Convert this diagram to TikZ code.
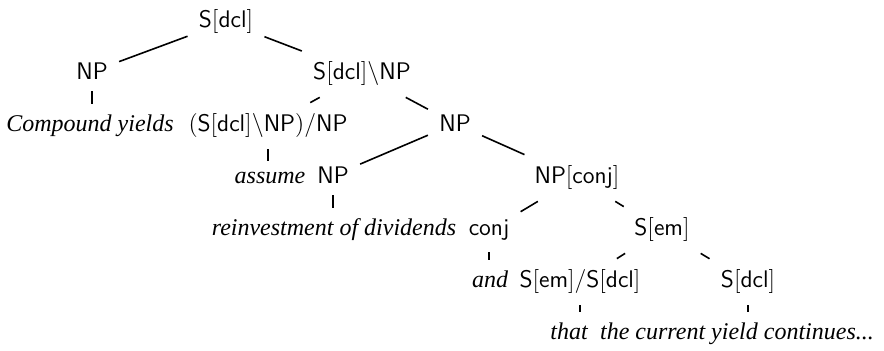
\documentclass[tikz,border=0pt]{standalone}
\usepackage{amsmath}
\usepackage{fontspec}
\usepackage{tikz}
\newfontfamily\wordfont{Liberation Serif}
\tikzstyle{category}=[anchor=base, inner sep=5.5pt, font=\fontsize{12}{14}\selectfont]
\tikzstyle{lex}=[category, font=\fontsize{12}{14}\selectfont\wordfont\itshape]
\tikzstyle{branch}=[line width=.8pt]
\tikzstyle{leafbar}=[line width=.8pt]

\begin{document}
\begin{tikzpicture}[x=.5pt, y=.5pt, yscale=-1]
	\useasboundingbox (0,0) rectangle (884,351);

		% categories, one row every 52 units
		\node[category] (root) at (226,28) {$\mathsf{S[dcl]}$};
		\node[category] (np) at (92,80) {$\mathsf{NP}$};
		\node[category] (vp) at (362,80) {$\mathsf{S[dcl]\backslash NP}$};
		\node[category] (tv) at (268,132) {$\mathsf{(S[dcl]\backslash NP)/NP}$};
		\node[category] (obj) at (455,132) {$\mathsf{NP}$};
		\node[category] (np2) at (333,184) {$\mathsf{NP}$};
		\node[category] (npconj) at (577,184) {$\mathsf{NP[conj]}$};
		\node[category] (conj) at (489,236) {$\mathsf{conj}$};
		\node[category] (sem) at (662,236) {$\mathsf{S[em]}$};
		\node[category] (comp) at (580,288) {$\mathsf{S[em]/S[dcl]}$};
		\node[category] (sdcl) at (748,288) {$\mathsf{S[dcl]}$};

		% words
		\node[lex] (w1) at (90,132) {Compound yields};
		\node[lex] (w2) at (270,184) {assume};
		\node[lex] (w3) at (334,236) {reinvestment of dividends};
		\node[lex] (w4) at (490,288) {and};
		\node[lex] (w5) at (569,340) {that};
		\node[lex] (w6) at (737,340) {the current yield continues...};

		\foreach \a/\b in {root/np, root/vp, vp/tv, vp/obj, obj/np2, obj/npconj,
			npconj/conj, npconj/sem, sem/comp, sem/sdcl}{
			\draw[branch] (\a) -- (\b);
		}
		\foreach \a/\b in {np/w1, tv/w2, np2/w3, conj/w4, comp/w5, sdcl/w6}{
			\draw[leafbar] (\a.south) -- (\a.south |- \b.north);
		}

\end{tikzpicture}
\end{document}
